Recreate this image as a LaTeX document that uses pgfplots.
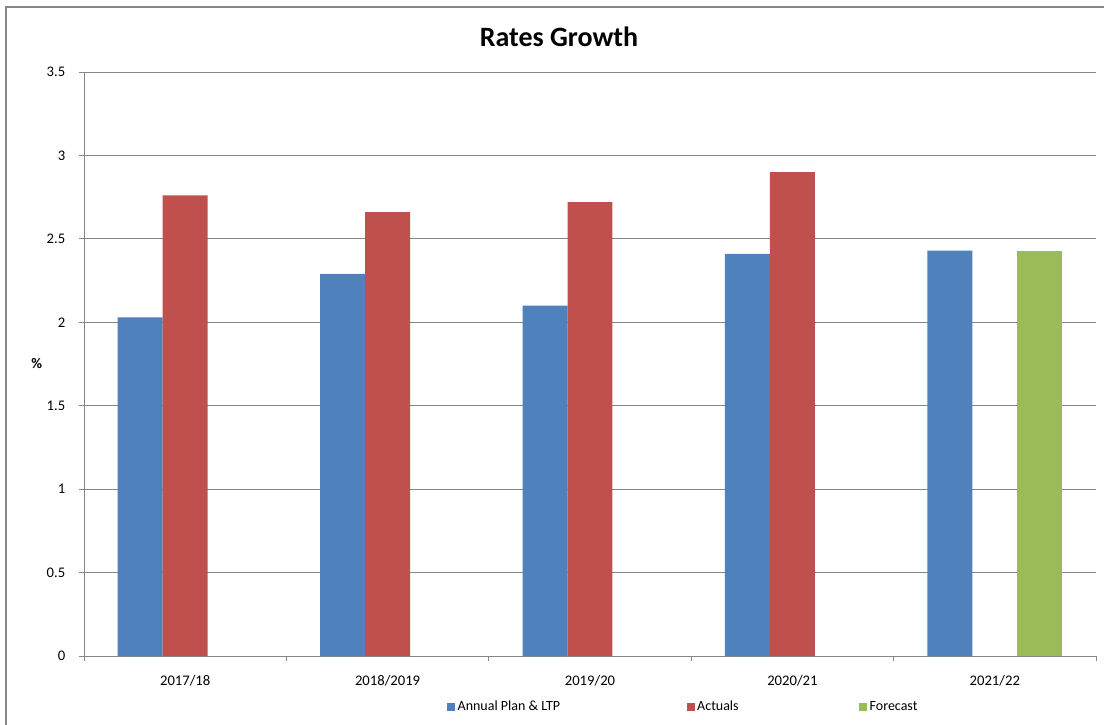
\documentclass[border=0pt]{standalone}
\usepackage{fontspec}
\setmainfont{Carlito}
\usepackage{pgfplots}
\pgfplotsset{compat=1.18}
\definecolor{xblue}{HTML}{4F81BD}
\definecolor{xred}{HTML}{C0504D}
\definecolor{xgreen}{HTML}{9BBB59}
\definecolor{xgrid}{HTML}{868686}

\begin{document}
\begin{tikzpicture}[x=1pt,y=1pt]
\useasboundingbox (0,0) rectangle (828,-543.75);
\fill[white] (0,0) rectangle (828,-543.75);
\draw[xgrid, line width=0.9pt] (4.5,-5.25) rectangle (840,-560);
\begin{axis}[
  at={(63pt,-492pt)}, anchor=south west,
  scale only axis, width=759pt, height=438pt,
  ymin=0, ymax=3.5, xmin=-0.5, xmax=4.5,
  ybar, bar width=0.2223,
  ytick={0,0.5,1,1.5,2,2.5,3,3.5},
  xtick={0,1,2,3,4},
  xticklabels={2017/18,2018/2019,2019/20,2020/21,2021/22},
  minor xtick={-0.5,0.5,1.5,2.5,3.5,4.5},
  major x tick style={draw=none},
  tick align=outside,
  major tick length=3.75pt, minor tick length=3.75pt,
  tick style={xgrid, line width=0.75pt},
  axis x line*=bottom, axis y line*=left,
  axis line style={xgrid, line width=0.75pt, -},
  ymajorgrids, grid style={xgrid, line width=0.75pt},
  /pgf/number format/assume math mode=true,
  tick label style={font=\fontsize{11}{13}\selectfont, text=black},
  xticklabel style={yshift=-7.5pt},
  yticklabel style={xshift=-6.8pt},
  legend columns=3,
  legend style={draw=none, fill=none, at={(0.3587,-0.0873)}, anchor=west,
    inner sep=0pt, outer sep=0pt, font=\fontsize{10.5}{12}\selectfont,
    /tikz/every even column/.append style={column sep=88.25pt}},
  legend image code/.code={\fill[#1] (0pt,-3pt) rectangle (6pt,3pt);},
]
\addplot[fill=xblue, draw=none, bar shift=-0.2223] coordinates {(0,2.03) (1,2.29) (2,2.10) (3,2.41) (4,2.43)};
\addlegendentry{Annual Plan \& LTP\hspace*{4.5pt}}
\addplot[fill=xred, draw=none, bar shift=0] coordinates {(0,2.76) (1,2.66) (2,2.72) (3,2.90)};
\addlegendentry{Actuals}
\addplot[fill=xgreen, draw=none, bar shift=0.2223] coordinates {(4,2.43)};
\addlegendentry{Forecast}
\end{axis}
\node[anchor=base, inner sep=0pt, font=\fontsize{21}{25}\selectfont\bfseries] at (419.25,-35) {Rates Growth};
\node[inner sep=0pt, font=\fontsize{11}{13}\selectfont\bfseries] at (27.5,-273) {\%};
\end{tikzpicture}
\end{document}
